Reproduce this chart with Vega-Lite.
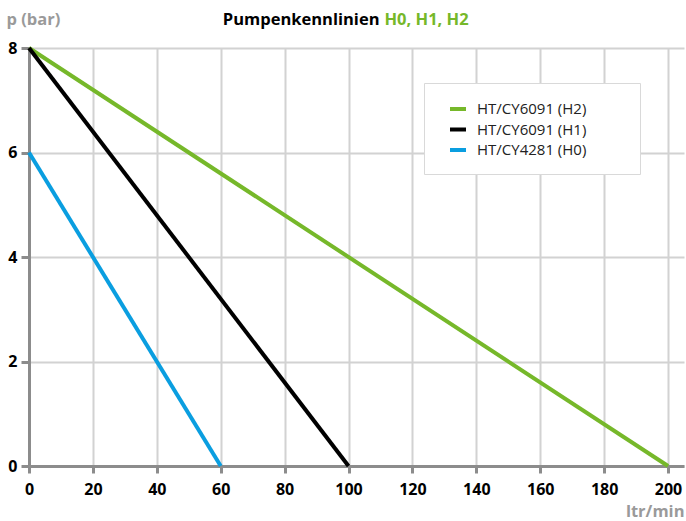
{
  "$schema": "https://vega.github.io/schema/vega-lite/v6.json",
  "description": "Pumpenkennlinien H0, H1, H2",
  "width": 655,
  "height": 418,
  "autosize": {"type": "none"},
  "padding": {"left": 29, "top": 48, "right": 2, "bottom": 55},
  "background": "white",
  "config": {
    "view": {"stroke": null},
    "font": "Open Sans",
    "axis": {
      "labelFont": "Open Sans",
      "labelFontWeight": "bold",
      "labelFontSize": 16,
      "labelColor": "#000000",
      "labelFlush": false,
      "domainColor": "#8c8c8c",
      "domainWidth": 3,
      "tickColor": "#8c8c8c",
      "tickWidth": 3,
      "gridColor": "#d2d2d2",
      "gridWidth": 2,
      "titleFont": "Open Sans",
      "titleFontWeight": "bold",
      "titleFontSize": 16.5
    }
  },
  "data": {
    "values": [
      {"serie": "HT/CY6091 (H2)", "q": 0, "p": 8},
      {"serie": "HT/CY6091 (H2)", "q": 200, "p": 0},
      {"serie": "HT/CY6091 (H1)", "q": 0, "p": 8},
      {"serie": "HT/CY6091 (H1)", "q": 100, "p": 0},
      {"serie": "HT/CY4281 (H0)", "q": 0, "p": 6},
      {"serie": "HT/CY4281 (H0)", "q": 60, "p": 0}
    ]
  },
  "layer": [
    {
      "mark": {"type": "line", "strokeWidth": 4},
      "encoding": {
        "x": {
          "field": "q",
          "type": "quantitative",
          "scale": {"domain": [0, 205], "nice": false, "zero": true},
          "axis": {
            "orient": "bottom",
            "values": [0, 20, 40, 60, 80, 100, 120, 140, 160, 180, 200],
            "tickSize": 7,
            "labelPadding": 8,
            "title": "ltr/min",
            "titleColor": "#9a9a9a",
            "titleAngle": 0,
            "titleAlign": "right",
            "titleBaseline": "alphabetic",
            "titleX": 655,
            "titleY": 50
          }
        },
        "y": {
          "field": "p",
          "type": "quantitative",
          "scale": {"domain": [0, 8], "nice": false},
          "axis": {
            "orient": "left",
            "values": [0, 2, 4, 6, 8],
            "tickSize": 8,
            "labelPadding": 4,
            "title": "p (bar)",
            "titleColor": "#9a9a9a",
            "titleAngle": 0,
            "titleAlign": "left",
            "titleBaseline": "alphabetic",
            "titleX": -23,
            "titleY": -24
          }
        },
        "color": {
          "field": "serie",
          "type": "nominal",
          "sort": null,
          "scale": {
            "domain": ["HT/CY6091 (H2)", "HT/CY6091 (H1)", "HT/CY4281 (H0)"],
            "range": ["#76b82a", "#000000", "#0a9ee0"]
          },
          "legend": {
            "title": "\u00a0",
            "titleOrient": "right",
            "titlePadding": 38,
            "titleFontSize": 10,
            "orient": "none",
            "legendX": 395,
            "legendY": 35,
            "direction": "vertical",
            "fillColor": "white",
            "strokeColor": "#d9d9d9",
            "padding": 16,
            "symbolOffset": 8,
            "symbolType": "stroke",
            "symbolStrokeWidth": 4,
            "symbolSize": 256,
            "labelFont": "Open Sans",
            "labelFontSize": 15,
            "labelColor": "#222222",
            "labelOffset": 9,
            "rowPadding": 2.5
          }
        }
      }
    },
    {
      "mark": {"type": "line", "strokeOpacity": 0},
      "encoding": {
        "x": {
          "field": "q",
          "type": "quantitative",
          "axis": {
            "orient": "top",
            "grid": false,
            "labels": false,
            "ticks": false,
            "domain": false,
            "title": "H0, H1, H2",
            "titleColor": "#76b82a",
            "titleAngle": 0,
            "titleAlign": "left",
            "titleBaseline": "alphabetic",
            "titleX": 355,
            "titleY": -24
          }
        },
        "y": {
          "field": "p",
          "type": "quantitative",
          "axis": {
            "orient": "right",
            "grid": false,
            "labels": false,
            "ticks": false,
            "domain": false,
            "title": "Pumpenkennlinien",
            "titleColor": "#000000",
            "titleAngle": 0,
            "titleAlign": "right",
            "titleBaseline": "alphabetic",
            "titleX": -305,
            "titleY": -24
          }
        },
        "detail": {"field": "serie", "type": "nominal"}
      }
    }
  ],
  "resolve": {"axis": {"x": "independent", "y": "independent"}}
}
